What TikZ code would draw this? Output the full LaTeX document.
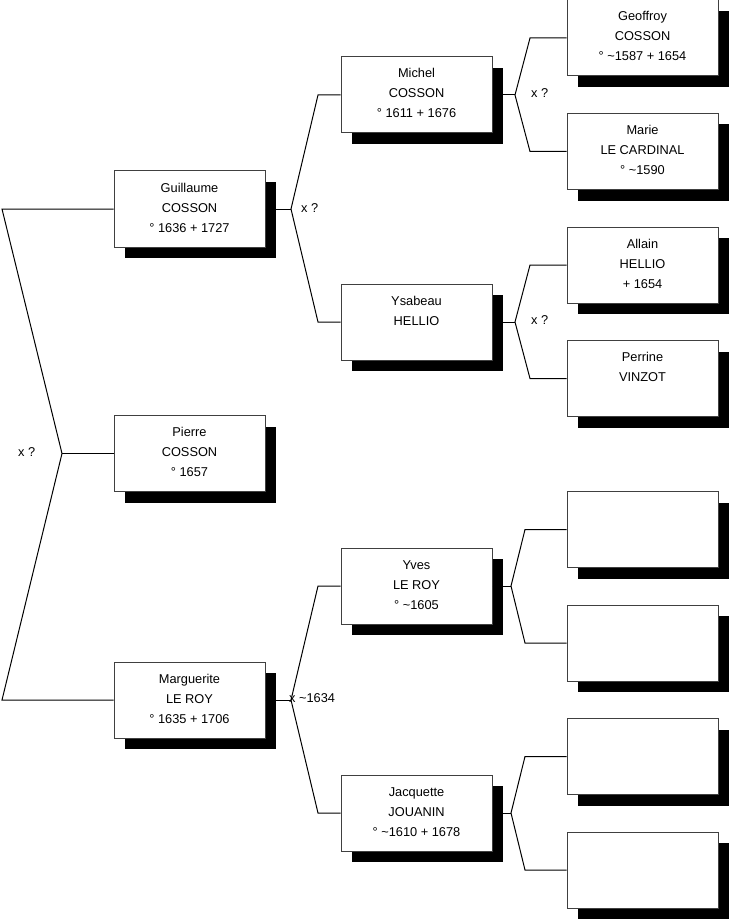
\documentclass[tikz,border=0pt]{standalone}
\usepackage{fontspec}
\setmainfont{Liberation Sans}
\usetikzlibrary{shadows}
\newcommand{\ptext}[1]{\parbox[c][76pt][t]{151pt}{\centering\rule{0pt}{21pt}#1\par}}
\begin{document}
\begin{tikzpicture}[x=1pt,y=-1pt,
  font=\fontsize{12.8}{20}\selectfont,
  person/.style={draw=black!75, line width=1pt, fill=white, inner sep=0pt,
    minimum width=151pt, minimum height=76pt,
    drop shadow={shadow xshift=11pt, shadow yshift=-11pt, fill=black, opacity=1}},
  link/.style={draw=black, line width=1pt},
  lbl/.style={anchor=west, inner sep=0pt}]
\useasboundingbox (0,0) rectangle (731,920);
% generation 1
\node[person] (g)  at (189.5,209)   {\ptext{Guillaume\\COSSON\\° 1636 + 1727}};
\node[person] (p)  at (189.5,453.5) {\ptext{Pierre\\COSSON\\° 1657}};
\node[person] (mg) at (189.5,700)   {\ptext{Marguerite\\LE ROY\\° 1635 + 1706}};
% generation 2
\node[person] (m)  at (416.5,95)  {\ptext{Michel\\COSSON\\° 1611 + 1676}};
\node[person] (ys) at (416.5,322) {\ptext{Ysabeau\\HELLIO}};
\node[person] (yv) at (416.5,586) {\ptext{Yves\\LE ROY\\° \textasciitilde1605}};
\node[person] (jq) at (416.5,813) {\ptext{Jacquette\\JOUANIN\\° \textasciitilde1610 + 1678}};
% generation 3
\node[person] (geo) at (642.5,38)    {\ptext{Geoffroy\\COSSON\\° \textasciitilde1587 + 1654}};
\node[person] (mar) at (642.5,151.5) {\ptext{Marie\\LE CARDINAL\\° \textasciitilde1590}};
\node[person] (al)  at (642.5,265)   {\ptext{Allain\\HELLIO\\+ 1654}};
\node[person] (pe)  at (642.5,378.5) {\ptext{Perrine\\VINZOT}};
\node[person] (e1)  at (642.5,529.5) {\ptext{}};
\node[person] (e2)  at (642.5,643)   {\ptext{}};
\node[person] (e3)  at (642.5,756.5) {\ptext{}};
\node[person] (e4)  at (642.5,870)   {\ptext{}};
% helper coordinates
\coordinate (f0) at (62,453.5);
\coordinate (c0) at (2,0);
\coordinate (c1) at (291,0);
\coordinate (c2) at (318,0);
\coordinate (c3) at (515,0);
\coordinate (c4) at (530,0);
\coordinate (c5) at (511,0);
\coordinate (c6) at (525,0);
% connectors
\draw[link] (g.west) -- (g.west -| c0) -- (f0) -- (mg.west -| c0) -- (mg.west);
\draw[link] (p.west) -- (f0);
\draw[link] (g.east) -- (g.east -| c1);
\draw[link] (m.west) -- (m.west -| c2) -- (g.east -| c1) -- (ys.west -| c2) -- (ys.west);
\draw[link] (mg.east) -- (mg.east -| c1);
\draw[link] (yv.west) -- (yv.west -| c2) -- (mg.east -| c1) -- (jq.west -| c2) -- (jq.west);
\draw[link] (m.east) -- (m.east -| c3);
\draw[link] (geo.west) -- (geo.west -| c4) -- (m.east -| c3) -- (mar.west -| c4) -- (mar.west);
\draw[link] (ys.east) -- (ys.east -| c3);
\draw[link] (al.west) -- (al.west -| c4) -- (ys.east -| c3) -- (pe.west -| c4) -- (pe.west);
\draw[link] (yv.east) -- (yv.east -| c5);
\draw[link] (e1.west) -- (e1.west -| c6) -- (yv.east -| c5) -- (e2.west -| c6) -- (e2.west);
\draw[link] (jq.east) -- (jq.east -| c5);
\draw[link] (e3.west) -- (e3.west -| c6) -- (jq.east -| c5) -- (e4.west -| c6) -- (e4.west);
% labels
\node[lbl] (l0) at (18,452)  {x ?};
\node[lbl] (l1) at (301,208) {x ?};
\node[lbl] (l2) at (289,698) {x \textasciitilde1634};
\node[lbl] (l3) at (531,93)  {x ?};
\node[lbl] (l4) at (531,320) {x ?};
\end{tikzpicture}
\end{document}
